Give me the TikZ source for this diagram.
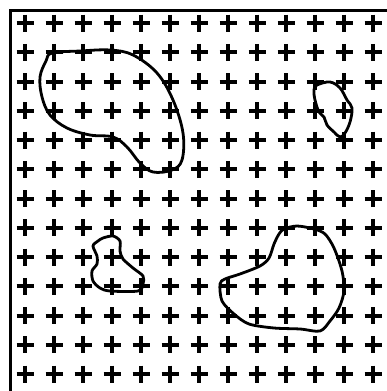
\documentclass[tikz,border=0pt]{standalone}
\begin{document}
\begin{tikzpicture}[x=1pt,y=-1pt,
  cross/.style={line width=4pt},
  blob/.style={line width=2.8pt, line join=round},
  frame/.style={line width=3pt}]
\useasboundingbox (0,0) rectangle (387,391);
\fill[white] (0,0) rectangle (387,391);
\draw[frame] (10,391) -- (10,10) -- (387,10);
\foreach \i in {0,...,12} {
  \foreach \j in {0,...,12} {
    \draw[cross] ({25+29*\i-8.5},{23+29.25*\j}) -- ++(17,0)
                 ({25+29*\i},{23+29.25*\j-8.5}) -- ++(0,17);
  }
}
% large blob top-left
\draw[blob] plot[smooth cycle, tension=0.6] coordinates {
  (52,53) (80,51) (110,50) (133,55) (157,73) (173,100) (183,133) (182,160)
  (172,170) (153,172) (140,163) (127,147) (113,137) (90,135) (67,128)
  (50,115) (42,97) (40,77) (46,61)};
% small blob top-right
\draw[blob] plot[smooth cycle, tension=0.6] coordinates {
  (317,85) (330,82) (340,88) (347,100) (352,108) (350,122) (345,133)
  (340,137) (334,132) (327,125) (324,117) (319,112) (315,100) (314,90)};
% small blob bottom-left
\draw[blob] plot[smooth cycle, tension=0.5] coordinates {
  (103,238) (113,236) (120,241) (120,251) (123,259) (133,268) (143,276)
  (143,284) (138,291) (110,291) (100,288) (93,281) (92,271) (97,264)
  (97,256) (93,246) (98,241)};
% large blob bottom-right
\draw[blob] plot[smooth cycle, tension=0.5] coordinates {
  (284,229) (297,226) (314,229) (325,234) (334,248) (342,271) (344,291)
  (339,308) (330,321) (320,331) (300,329) (274,328) (249,324) (234,314)
  (222,301) (220,284) (225,279) (240,274) (260,266) (269,258) (274,244)
  (279,234)};
\end{tikzpicture}
\end{document}
